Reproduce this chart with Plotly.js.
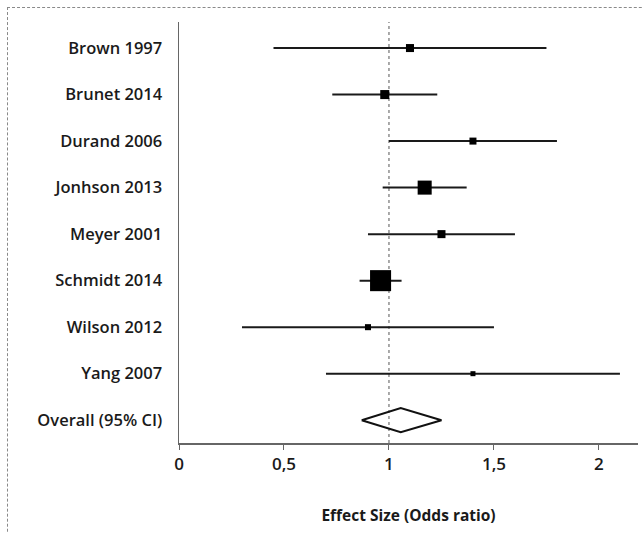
<!DOCTYPE html>
<html>
<head>
<meta charset="utf-8">
<script src="https://cdn.plot.ly/plotly-3.0.1.min.js"></script>
<style>
  html, body { margin: 0; padding: 0; width: 642px; height: 533px; overflow: hidden; background: #fff; }
  #frame { position: absolute; left: 7px; top: 7px; width: 700px; height: 600px; border: 1px dashed #8a8a8a; box-sizing: border-box; }
  #chart { position: absolute; left: 0; top: 0; width: 642px; height: 533px; }
</style>
</head>
<body>
<div id="frame"></div>
<div id="chart"></div>
<script>
// ---- data ----
const studies = ["Brown 1997", "Brunet 2014", "Durand 2006", "Jonhson 2013", "Meyer 2001", "Schmidt 2014", "Wilson 2012", "Yang 2007"];
const oddsRatio = [1.10, 0.98, 1.40, 1.17, 1.25, 0.96, 0.90, 1.40];
const ciLow     = [0.45, 0.73, 1.00, 0.97, 0.90, 0.86, 0.30, 0.70];
const ciHigh    = [1.75, 1.23, 1.80, 1.37, 1.60, 1.06, 1.50, 2.10];
const weights   = [6.7, 8.5, 5.1, 20.5, 6.7, 46.1, 3.8, 2.6];
const overallLabel = "Overall (95% CI)";
const overallEst = 1.056;
const overallLow = 0.87;
const overallHigh = 1.25;
const xTickVals = [0, 0.5, 1, 1.5, 2];
const xTitle = "Effect Size (Odds ratio)";

// ---- build ----
const rowIdx = studies.map((_, i) => i);
const overallRow = studies.length;
const sizes = weights.map(w => 3.1 * Math.sqrt(w));
const halfH = 0.26;

const studyTrace = {
  type: "scatter", mode: "markers",
  x: oddsRatio, y: rowIdx,
  marker: { symbol: "square", size: sizes, color: "#000", opacity: 1, line: { width: 0 } },
  error_x: {
    type: "data", symmetric: false,
    array: ciHigh.map((h, i) => h - oddsRatio[i]),
    arrayminus: ciLow.map((l, i) => oddsRatio[i] - l),
    width: 0, thickness: 2, color: "#1a1a1a"
  },
  hoverinfo: "x+y", showlegend: false, cliponaxis: false
};

const diamond = {
  type: "scatter", mode: "lines",
  x: [overallLow, overallEst, overallHigh, overallEst, overallLow],
  y: [overallRow, overallRow - halfH, overallRow, overallRow + halfH, overallRow],
  line: { color: "#111", width: 2 },
  showlegend: false, hoverinfo: "skip"
};

const layout = {
  width: 642, height: 533,
  margin: { l: 179, r: 4, t: 22, b: 90 },
  paper_bgcolor: "rgba(0,0,0,0)", plot_bgcolor: "rgba(0,0,0,0)",
  separators: ", ",
  font: { family: "Open Sans, sans-serif", color: "#1a1a1a" },
  xaxis: {
    range: [0, 2.186], tickvals: xTickVals, ticks: "outside", ticklen: 5, tickcolor: "#666", tickwidth: 1,
    showline: true, linecolor: "#666", linewidth: 1.5, showgrid: false, zeroline: false,
    tickfont: { size: 17, weight: 600, color: "#1a1a1a" },
    title: { text: xTitle, font: { size: 15.5, weight: 700, color: "#1a1a1a" }, standoff: 36 }
  },
  yaxis: {
    range: [overallRow + 0.49, -0.56],
    tickvals: rowIdx.concat([overallRow]),
    ticktext: studies.concat([overallLabel]),
    ticks: "", ticklabelstandoff: 12,
    showline: true, linecolor: "#666", linewidth: 1.5, showgrid: false, zeroline: false,
    tickfont: { size: 16.5, weight: 600, color: "#1a1a1a" }
  },
  shapes: [{
    type: "line", xref: "x", yref: "paper", x0: 1, x1: 1, y0: 0, y1: 1,
    line: { color: "#555", width: 1, dash: "3px,3px" }, layer: "below"
  }]
};

Plotly.newPlot("chart", [studyTrace, diamond], layout, { displayModeBar: false, staticPlot: true });
</script>
</body>
</html>
